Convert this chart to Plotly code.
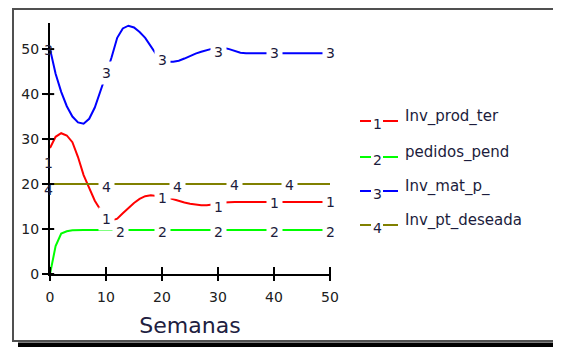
import plotly.graph_objects as go

# ---------------- data ----------------
weeks = list(range(0, 51))

inv_prod_ter = [28, 30.5, 31.3, 30.8, 29.3, 26, 22, 19, 16.3, 14.3,
                12.5, 11.8, 12.3, 13.5, 14.7, 15.8, 16.7, 17.3, 17.5, 17.4,
                17.2, 17.0, 16.6, 16.2, 15.9, 15.6, 15.4, 15.3, 15.3, 15.4,
                15.6, 15.9] + [16.0] * 19

pedidos_pend = [0, 6.2, 9.0, 9.5, 9.7] + [9.8] * 46

inv_mat_p = [50, 44.5, 40.5, 37.3, 35, 33.7, 33.4, 34.5, 37, 40.5,
             44.3, 48.2, 52.5, 54.6, 55.2, 54.8, 53.8, 52.5, 50.5, 48.8,
             47.6, 47.2, 47.2, 47.4, 47.9, 48.5, 49.0, 49.4, 49.8, 50.1,
             50.3, 50.3, 50.0, 49.6, 49.2] + [49.1] * 16

inv_pt_deseada = [20] * 51

series_names = ["Inv_prod_ter", "pedidos_pend", "Inv_mat_p_", "Inv_pt_deseada"]
series_ids = ["1", "2", "3", "4"]
series_colors = ["#ff0000", "#00ff00", "#0000ff", "#808000"]

# number-label positions (week, value)
lab1_t = [0, 10, 20, 30, 40, 50]
lab1_v = [24.7, 12.2, 16.8, 14.9, 15.8, 16.0]
lab2_t = [0, 12.5, 20, 30, 40, 50]
lab2_v = [-1.8, 9.3, 9.3, 9.3, 9.3, 9.3]
lab3_t = [0, 10, 20, 30, 40, 50]
lab3_v = [49.9, 44.7, 47.6, 49.4, 49.2, 49.2]
lab4_t = [0, 10, 22.7, 33, 42.7]
lab4_v = [18.7, 19.4, 19.4, 19.7, 19.7]

x_ticks = [0, 10, 20, 30, 40, 50]
y_ticks = [0, 10, 20, 30, 40, 50]
x_title = "Semanas"

# ---------------- figure ----------------
# the page body has an 8px margin: the figure is shrunk/shifted to compensate
OFF = 8
W, H = 561 - OFF, 347 - OFF
L, T, PW, PH = 50, 23, 280, 251   # plot area in window pixels
ymax = 55.8

def px(xp):
    return (xp - L) / PW

def py(yp):
    return (T + PH - yp) / PH

fig = go.Figure()
all_series = [inv_prod_ter, pedidos_pend, inv_mat_p, inv_pt_deseada]
for s, c in zip(all_series, series_colors):
    fig.add_trace(go.Scatter(x=weeks, y=s, mode="lines",
                             line=dict(color=c, width=2),
                             showlegend=False, hoverinfo="skip",
                             cliponaxis=False))

# crossing tick marks
fig.add_trace(go.Scatter(x=x_ticks, y=[0] * len(x_ticks), mode="markers",
                         marker=dict(symbol="line-ns", size=10,
                                     line=dict(color="black", width=2)),
                         showlegend=False, hoverinfo="skip", cliponaxis=False))
fig.add_trace(go.Scatter(x=[0] * len(y_ticks), y=y_ticks, mode="markers",
                         marker=dict(symbol="line-ew", size=6,
                                     line=dict(color="black", width=2)),
                         showlegend=False, hoverinfo="skip", cliponaxis=False))

label_color = "#1c1c3c"
lab_font = dict(family="DejaVu Sans", size=14, color=label_color)
for sid, lt, lv in [("1", lab1_t, lab1_v), ("2", lab2_t, lab2_v),
                    ("3", lab3_t, lab3_v), ("4", lab4_t, lab4_v)]:
    for t, v in zip(lt, lv):
        first = (t == 0)
        fig.add_annotation(x=t, y=v, text=sid, showarrow=False,
                           font=lab_font,
                           bgcolor=None if first else "white",
                           borderpad=3, xshift=-2 if first else 0,
                           xanchor="center", yanchor="middle")

# legend (custom, Vensim style)
leg_text_y = [116, 152, 186, 220]
for i, (name, sid, col) in enumerate(zip(series_names, series_ids, series_colors)):
    ty = leg_text_y[i]
    dy = ty + 5
    fig.add_shape(type="line", xref="paper", yref="paper",
                  x0=px(360), x1=px(371), y0=py(dy), y1=py(dy),
                  line=dict(color=col, width=2))
    fig.add_shape(type="line", xref="paper", yref="paper",
                  x0=px(383), x1=px(398), y0=py(dy), y1=py(dy),
                  line=dict(color=col, width=2))
    fig.add_annotation(xref="paper", yref="paper", x=px(377), y=py(dy + 3),
                       text=sid, showarrow=False, font=lab_font,
                       xanchor="center", yanchor="middle")
    fig.add_annotation(xref="paper", yref="paper", x=px(403), y=py(ty),
                       text=name, showarrow=False,
                       font=dict(family="DejaVu Sans", size=15, color=label_color),
                       xanchor="left", yanchor="middle")

# frame + shadow
fig.add_shape(type="rect", xref="paper", yref="paper",
              x0=px(13), x1=px(558), y0=py(341), y1=py(9),
              line=dict(color="#505050", width=2), layer="below")
fig.add_shape(type="rect", xref="paper", yref="paper",
              x0=px(18), x1=px(562), y0=py(349), y1=py(342.5),
              line=dict(width=0), fillcolor="black")

fig.update_layout(
    width=W, height=H,
    margin=dict(l=L - OFF, r=561 - L - PW, t=T - OFF, b=347 - T - PH, autoexpand=False),
    paper_bgcolor="white", plot_bgcolor="white",
    showlegend=False,
    xaxis=dict(range=[0, 50], tickvals=x_ticks, showgrid=False, zeroline=False,
               showline=True, linecolor="black", linewidth=2,
               ticks="outside", ticklen=5, tickwidth=2, tickcolor="black",
               ticklabelstandoff=4,
               tickfont=dict(family="DejaVu Sans", size=14, color="#202020"),
               title=dict(text=x_title, standoff=14,
                          font=dict(family="DejaVu Sans", size=22, color="#202040"))),
    yaxis=dict(range=[0, ymax], tickvals=y_ticks, showgrid=False, zeroline=False,
               showline=True, linecolor="black", linewidth=2,
               ticks="outside", ticklen=6, tickwidth=2, tickcolor="black",
               tickfont=dict(family="DejaVu Sans", size=14, color="#202020")),
)

fig.write_html("out.html")
